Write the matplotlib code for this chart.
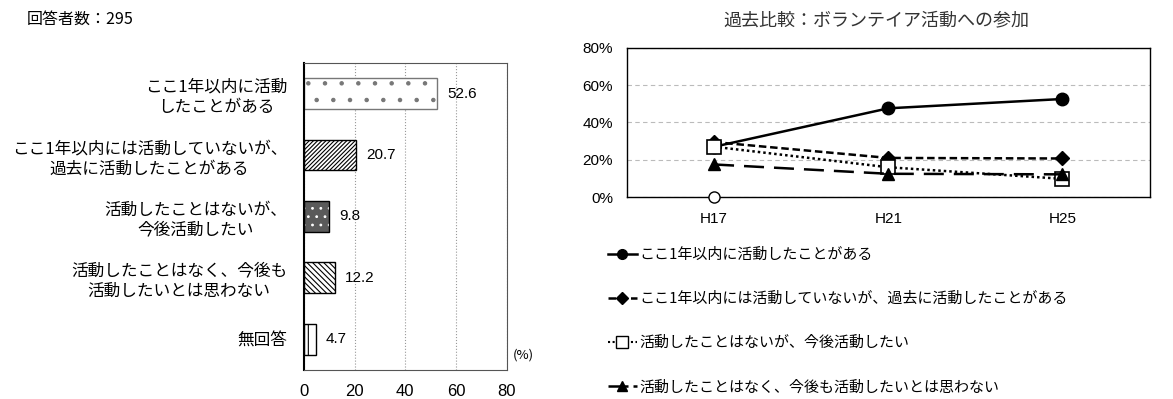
import matplotlib
matplotlib.use("Agg")
import matplotlib.pyplot as plt
from matplotlib.lines import Line2D

plt.rcParams['font.family'] = ['Noto Sans CJK JP', 'DejaVu Sans']
plt.rcParams['hatch.linewidth'] = 0.8

# left: current survey
answers = ["ここ1年以内に活動\nしたことがある",
           "ここ1年以内には活動していないが、\n過去に活動したことがある",
           "活動したことはないが、\n今後活動したい",
           "活動したことはなく、今後も\n活動したいとは思わない",
           "無回答"]
shares = [52.6, 20.7, 9.8, 12.2, 4.7]
x_ticks = [0, 20, 40, 60, 80]

# right: past comparison
years = ["H17", "H21", "H25"]
series_names = ["ここ1年以内に活動したことがある",
                "ここ1年以内には活動していないが、過去に活動したことがある",
                "活動したことはないが、今後活動したい",
                "活動したことはなく、今後も活動したいとは思わない"]
active_recent = [27.0, 47.6, 52.6]
active_past = [29.5, 21.0, 20.7]
want_future = [27.0, 16.0, 9.8]
no_intent = [17.5, 12.5, 12.2]
h17_stray = [0]
y_ticks = [0, 20, 40, 60, 80]

fig = plt.figure(figsize=(11.73, 3.99), dpi=100)

# ---- left bar chart ----
ax1 = fig.add_axes([0.259, 0.073, 0.173, 0.769])
pos = list(range(len(answers)))
styles = [dict(facecolor="white", edgecolor="#777777", hatch="."),
          dict(facecolor="white", edgecolor="black", hatch="////////"),
          dict(facecolor="#5a5a5a", edgecolor="white", hatch=".."),
          dict(facecolor="white", edgecolor="black", hatch="\\\\\\\\\\\\"),
          dict(facecolor="white", edgecolor="black", hatch="|")]
for p, v, st in zip(pos, shares, styles):
    ax1.barh(p, v, height=0.5, linewidth=0, **st)
    ec = "#777777" if p == 0 else "black"
    ax1.barh(p, v, height=0.5, facecolor="none", edgecolor=ec, linewidth=1.0)
    ax1.text(v + 4, p, f"{v}", va="center", ha="left", fontsize=11,
             family=['Liberation Sans', 'DejaVu Sans'])
ax1.set_ylim(len(answers) - 0.5, -0.5)
ax1.set_xlim(0, 80)
ax1.set_yticks(pos)
ax1.set_yticklabels(answers, fontsize=12, multialignment="center", linespacing=1.25)
ax1.set_xticks(x_ticks)
ax1.set_xticklabels([str(t) for t in x_ticks], fontsize=12,
                    family=['Liberation Sans', 'DejaVu Sans'])
ax1.tick_params(axis="both", length=0)
ax1.tick_params(axis="y", pad=12)
ax1.tick_params(axis="x", pad=10)
ax1.xaxis.grid(True, linestyle=":", color="#999999", linewidth=0.8)
ax1.set_axisbelow(True)
for s in ax1.spines.values():
    s.set_color("#555555")
ax1.spines["left"].set_color("black")
ax1.spines["left"].set_linewidth(1.5)
fig.text(0.437, 0.11, "(%)", fontsize=9.5, ha="left", va="center")
fig.text(0.023, 0.952, "回答者数：295", fontsize=11.5, ha="left", va="center")

# ---- right line chart ----
ax2 = fig.add_axes([0.5345, 0.506, 0.4455, 0.374])
xs = list(range(len(years)))
ms = 9
ax2.plot(xs, active_recent, color="black", linewidth=1.8, marker="o",
         markersize=ms, label=series_names[0], zorder=3)
ax2.plot(xs, active_past, color="black", linewidth=1.8, linestyle=(0, (3, 1.5)),
         marker="D", markersize=7.5, label=series_names[1], zorder=4)
ax2.plot(xs, want_future, color="black", linewidth=1.8, linestyle=(0, (1, 1.2)),
         marker="s", markersize=10, markerfacecolor="white",
         markeredgewidth=1.2, label=series_names[2], zorder=5)
ax2.plot(xs, no_intent, color="black", linewidth=1.8, linestyle=(0, (8, 4)),
         marker="^", markersize=ms, label=series_names[3], zorder=6)
ax2.plot(xs[:1], h17_stray, linestyle="none", marker="o", markersize=8,
         markerfacecolor="white", markeredgecolor="black", clip_on=False, zorder=7)
ax2.set_xlim(-0.5, 2.5)
ax2.set_ylim(0, 80)
ax2.set_xticks(xs)
ax2.set_xticklabels(years, fontsize=11, family=['Liberation Sans', 'DejaVu Sans'])
ax2.set_yticks(y_ticks)
ax2.set_yticklabels([f"{t}%" for t in y_ticks], fontsize=11,
                    family=['Liberation Sans', 'DejaVu Sans'])
ax2.tick_params(axis="both", length=0)
ax2.tick_params(axis="y", pad=10)
ax2.tick_params(axis="x", pad=11)
ax2.yaxis.grid(True, linestyle=(0, (4, 3)), color="#bbbbbb", linewidth=0.8)
ax2.set_axisbelow(True)
for s in ax2.spines.values():
    s.set_linewidth(1.0)
fig.text(0.747, 0.950, "過去比較：ボランテイア活動への参加", fontsize=13,
         color="#333333", ha="center", va="center")

handles = [
    Line2D([], [], color="black", linewidth=1.8, marker="o", markersize=7),
    Line2D([], [], color="black", linewidth=1.8, linestyle=(0, (3, 1.5)),
           marker="D", markersize=6),
    Line2D([], [], color="black", linewidth=1.5, linestyle=(0, (1, 1.2)),
           marker="s", markersize=8, markerfacecolor="white"),
    Line2D([], [], color="black", linewidth=1.8, linestyle=(0, (8, 2)),
           marker="^", markersize=7),
]
fig.legend(handles, series_names, loc="upper left", bbox_to_anchor=(0.512, 0.398),
           frameon=False, fontsize=10.8, handlelength=1.9, handletextpad=0.2,
           labelspacing=2.0, borderpad=0)

fig.savefig("out.png", dpi=100)
